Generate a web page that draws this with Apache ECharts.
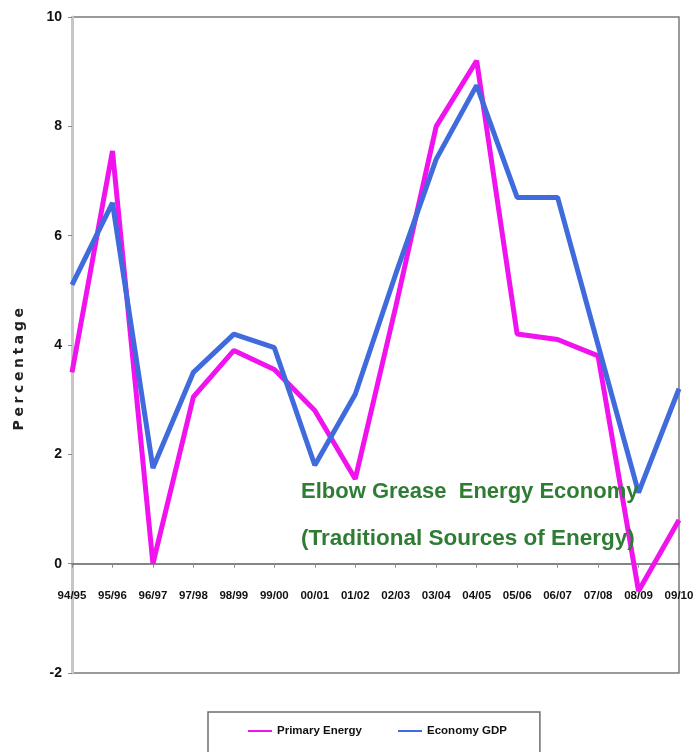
<!DOCTYPE html>
<html>
<head>
<meta charset="utf-8">
<title>Primary Energy vs Economy GDP</title>
<script src="https://cdn.jsdelivr.net/npm/echarts@6/dist/echarts.min.js"></script>
<style>
  html, body { margin: 0; padding: 0; background: #ffffff; }
  #chart { width: 699px; height: 752px; }
</style>
</head>
<body>
<div id="chart"></div>
<script>
// Financial years on the horizontal axis
const years = ['94/95', '95/96', '96/97', '97/98', '98/99', '99/00', '00/01', '01/02',
               '02/03', '03/04', '04/05', '05/06', '06/07', '07/08', '08/09', '09/10'];

// Annual growth, percent
const primaryEnergy = [3.5, 7.55, 0.0, 3.05, 3.9, 3.55, 2.8, 1.55,
                       4.7, 8.0, 9.2, 4.2, 4.1, 3.8, -0.5, 0.8];
const economyGDP = [5.1, 6.6, 1.75, 3.5, 4.2, 3.95, 1.8, 3.1,
                    5.3, 7.4, 8.75, 6.7, 6.7, 4.0, 1.3, 3.2];

// Vertical axis range
const yMin = -2;
const yMax = 10;
const yStep = 2;

const yTitle = 'Percentage';

const labelFont = '"Liberation Sans", Arial, sans-serif';

// Spread the letters of the vertical axis title apart
const spacedTitle = yTitle.split('').map(function (c) { return '{s|' + c + '}'; }).join('');

const chart = echarts.init(document.getElementById('chart'), null, { renderer: 'canvas' });

chart.setOption({
  animation: false,
  backgroundColor: '#ffffff',
  grid: {
    left: 72, right: 20, top: 17, bottom: 79,
    show: true,
    borderColor: '#7a7a7a',
    borderWidth: 1.5,
    backgroundColor: 'transparent'
  },
  xAxis: {
    type: 'category',
    data: years,
    boundaryGap: false,
    axisLine: { onZero: true, lineStyle: { color: '#5e5e5e', width: 1.5 } },
    axisTick: { show: true, inside: false, length: 4, lineStyle: { color: '#8a8a8a', width: 1 } },
    axisLabel: {
      interval: 0,
      // labels sit just under the zero line rather than at the bottom of the grid
      margin: -83,
      color: '#111111',
      fontFamily: labelFont,
      fontWeight: 'bold',
      fontSize: 11.5
    },
    splitLine: { show: false }
  },
  yAxis: {
    type: 'value',
    min: yMin,
    max: yMax,
    interval: yStep,
    axisLine: { show: true, lineStyle: { color: '#c6c6c6', width: 3 } },
    axisTick: { show: true, length: 4, lineStyle: { color: '#8a8a8a' } },
    axisLabel: {
      margin: 10,
      color: '#111111',
      fontFamily: labelFont,
      fontWeight: 'bold',
      fontSize: 14
    },
    splitLine: { show: false }
  },
  legend: {
    left: 208,
    top: 712,
    padding: [13, 33, 30, 40],
    borderColor: '#6e6e6e',
    borderWidth: 1.5,
    itemGap: 36,
    itemWidth: 24,
    itemHeight: 8,
    icon: 'path://M0,4 L24,4 L24,6 L0,6 Z',
    textStyle: {
      color: '#111111',
      fontFamily: labelFont,
      fontWeight: 'bold',
      fontSize: 11.5
    },
    data: ['Primary Energy', 'Economy GDP']
  },
  graphic: [
    {
      type: 'text',
      left: 12, top: 308,
      rotation: Math.PI / 2,
      style: {
        text: spacedTitle,
        fill: '#222222',
        rich: {
          s: {
            fontFamily: '"DejaVu Sans", sans-serif',
            fontWeight: 'bold',
            fontSize: 14,
            fill: '#222222',
            padding: [0, 1.8, 0, 1.8]
          }
        }
      }
    },
    {
      type: 'text',
      left: 301, top: 481,
      z: 10,
      style: {
        text: 'Elbow Grease  Energy Economy',
        font: 'bold 22px ' + labelFont,
        fill: '#2f7d34'
      }
    },
    {
      type: 'text',
      left: 301, top: 527,
      z: 10,
      style: {
        text: '(Traditional Sources of Energy)',
        font: 'bold 22.5px ' + labelFont,
        fill: '#2f7d34'
      }
    }
  ],
  series: [
    {
      name: 'Primary Energy',
      type: 'line',
      data: primaryEnergy,
      symbol: 'none',
      smooth: false,
      itemStyle: { color: '#f013ee' },
      lineStyle: { color: '#f013ee', width: 5 },
      z: 2
    },
    {
      name: 'Economy GDP',
      type: 'line',
      data: economyGDP,
      symbol: 'none',
      smooth: false,
      itemStyle: { color: '#3f6bdd' },
      lineStyle: { color: '#3f6bdd', width: 5 },
      z: 3
    }
  ]
});
</script>
</body>
</html>
